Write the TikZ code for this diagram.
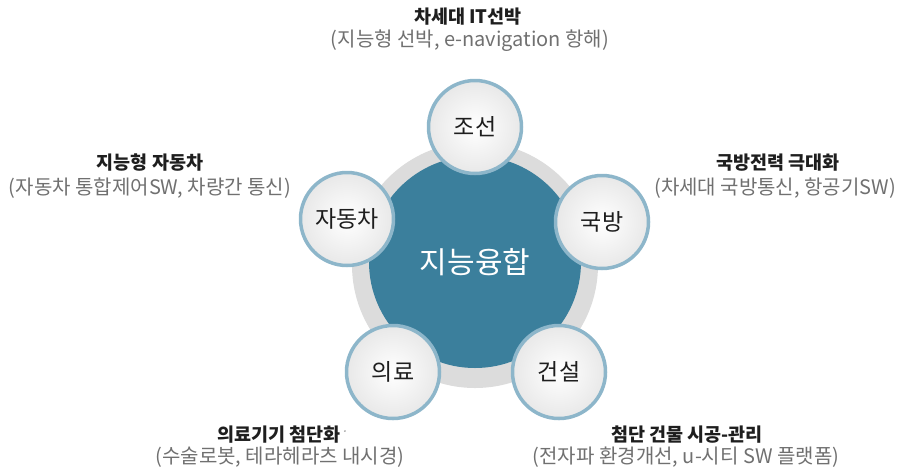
\documentclass[tikz,border=0pt]{standalone}
\usepackage{fontspec}
\setmainfont{Noto Sans CJK KR}
\usetikzlibrary{shadings}
\definecolor{teal1}{HTML}{3B7F9C}
\definecolor{ringgrey}{HTML}{DCDCDC}
\definecolor{rimblue}{HTML}{8DB6CA}
\definecolor{subgrey}{HTML}{707070}
\definecolor{titleblack}{HTML}{1E1E1E}
\tikzset{
  petal/.style={circle, minimum size=93pt, draw=rimblue, line width=3.5pt,
    inner color=white, outer color=black!9, text=titleblack,
    font=\fontsize{23}{27}\selectfont},
  ttl/.style={text=titleblack, font=\fontsize{18.5}{22}\selectfont\bfseries, inner sep=0pt},
  sub/.style={text=subgrey, font=\fontsize{20}{24}\selectfont, inner sep=0pt},
}
\begin{document}
\begin{tikzpicture}[x=1pt,y=-1pt]
\useasboundingbox (0,0) rectangle (901,467);
\fill[ringgrey] (475,265) circle (123);
\node[circle, fill=teal1, minimum size=212pt, text=white, font=\fontsize{30}{36}\selectfont] (hub) at (475,262) {지능융합};
\node[petal] (s1) at (475,127) {조선};
\node[petal] (s2) at (602,222) {국방};
\node[petal] (s3) at (559,372) {건설};
\node[petal] (s4) at (393,372) {의료};
\node[petal] (s5) at (347,219) {자동차};
\node[ttl] (t1) at (468,17) {차세대 IT선박};
\node[sub] (u1) at (470,41) {(지능형 선박, e-navigation 항해)};
\node[ttl] (t5) at (150,163) {지능형 자동차};
\node[sub] (u5) at (150,188) {(자동차 통합제어SW, 차량간 통신)};
\node[ttl] (t2) at (778,163) {국방전력 극대화};
\node[sub] (u2) at (775,188) {(차세대 국방통신, 항공기SW)};
\node[ttl] (t4) at (279,435) {의료기기 첨단화};
\fill[black!40] (t4.east) ++(4,-4) circle (0.9) coordinate (dot);
\node[sub] (u4) at (280,457) {(수술로봇, 테라헤라츠 내시경)};
\node[ttl] (t3) at (687,435) {첨단 건물 시공-관리};
\node[sub] (u3) at (686,457) {(전자파 환경개선, u-시티 SW 플랫폼)};
\end{tikzpicture}
\end{document}
